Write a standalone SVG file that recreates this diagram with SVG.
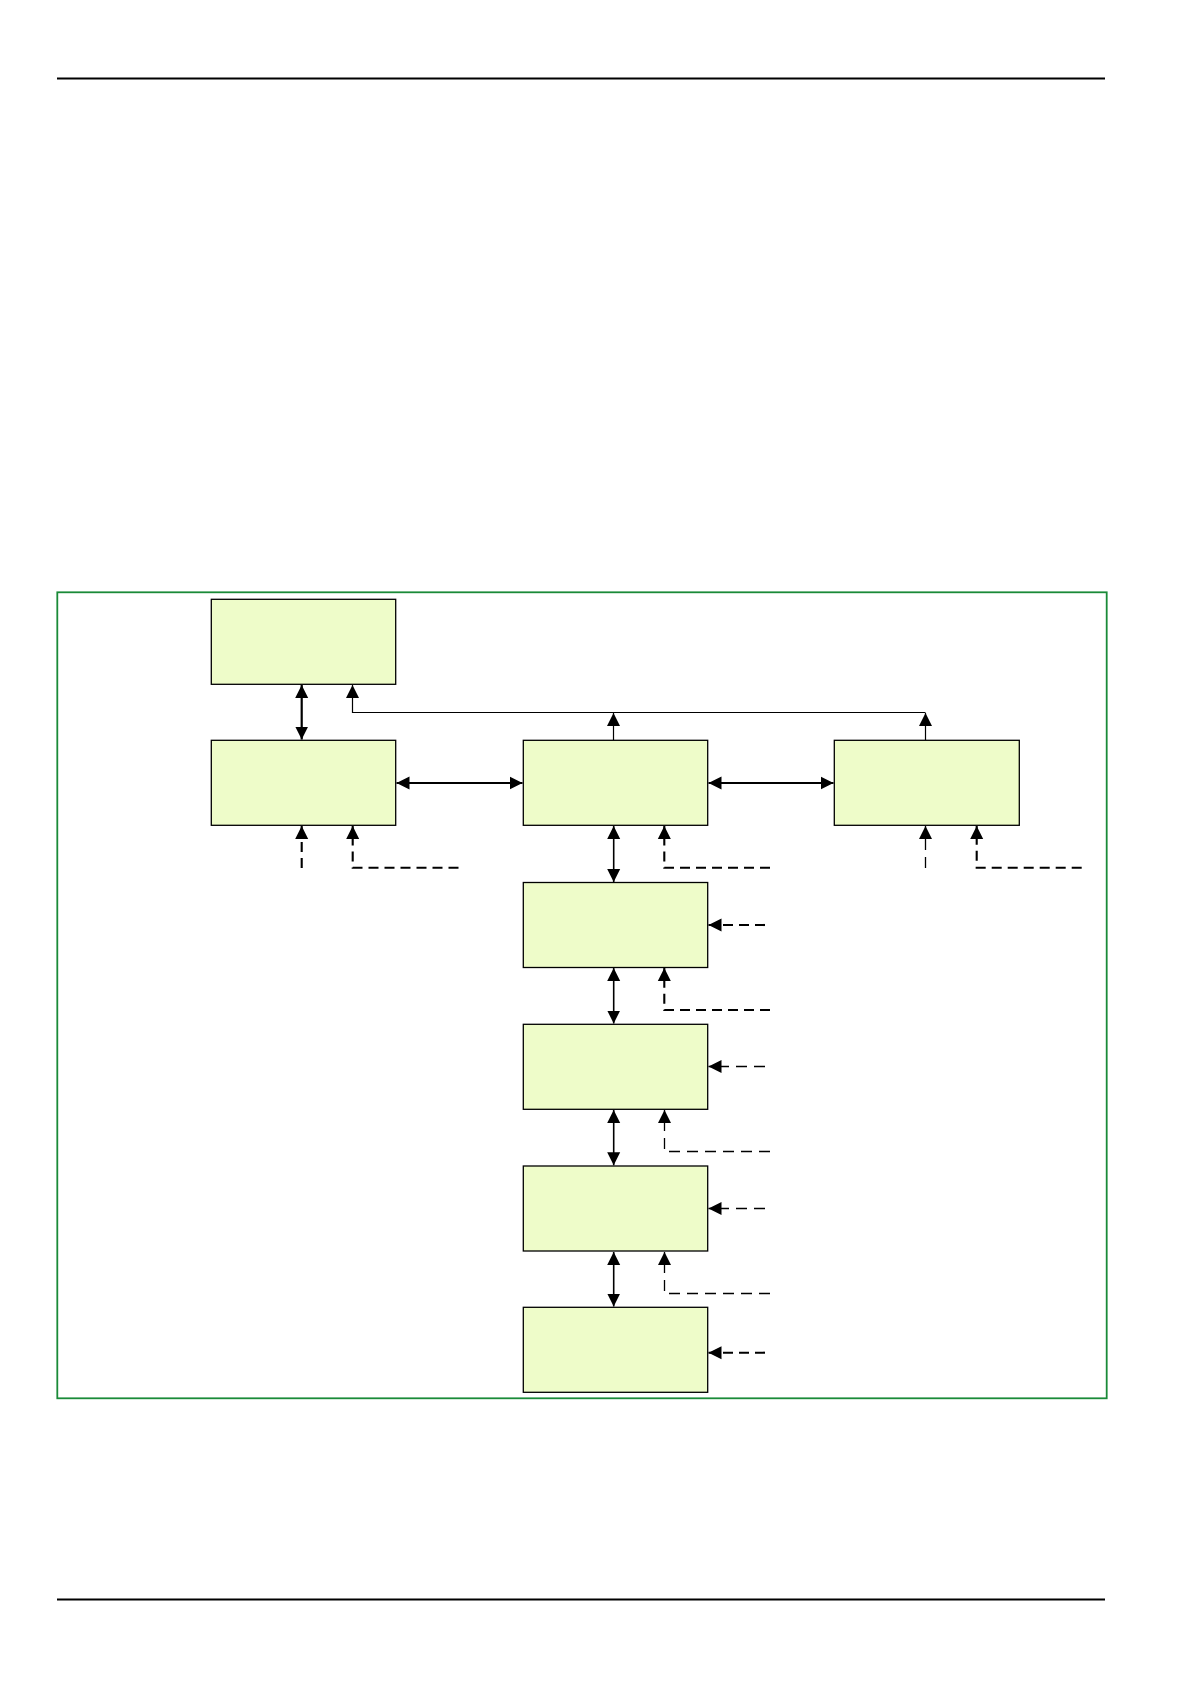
<svg xmlns="http://www.w3.org/2000/svg" width="1191" height="1684" viewBox="0 0 1191 1684">
<style>
.box{fill:#eefcc9;stroke:#000;stroke-width:1.3}
.frame{fill:none;stroke:#1a8a38;stroke-width:1.8}
.rule{stroke:#000;stroke-width:2.2}
.thick{fill:none;stroke:#000;stroke-width:2.2}
.med{fill:none;stroke:#000;stroke-width:1.6}
.thin{fill:none;stroke:#000;stroke-width:1.2}
.dthick{fill:none;stroke:#000;stroke-width:2.1;stroke-dasharray:10 6}
.dthin{fill:none;stroke:#000;stroke-width:1.3;stroke-dasharray:11 7}
</style>
<defs>
<marker id="ah" markerUnits="userSpaceOnUse" markerWidth="14" markerHeight="14" refX="13" refY="7" orient="auto-start-reverse" viewBox="0 0 14 14">
<path d="M0,0.5 L13,7 L0,13.5 Z" fill="#000"/>
</marker>
</defs>
<line class="rule" x1="57" y1="78.5" x2="1105" y2="78.5"/>
<line class="rule" x1="57" y1="1599.5" x2="1105" y2="1599.5"/>
<rect class="frame" x="57.3" y="592.3" width="1049.4" height="806"/>
<g id="nodes">
<g id="n1"><rect class="box" x="211.3" y="599.3" width="184.4" height="85"/></g>
<g id="n2"><rect class="box" x="211.3" y="740.3" width="184.4" height="85"/></g>
<g id="n3"><rect class="box" x="523.3" y="740.3" width="184.4" height="85"/></g>
<g id="n4"><rect class="box" x="834.3" y="740.3" width="185" height="85"/></g>
<g id="n5"><rect class="box" x="523.3" y="882.5" width="184.4" height="85"/></g>
<g id="n6"><rect class="box" x="523.3" y="1024.3" width="184.4" height="85"/></g>
<g id="n7"><rect class="box" x="523.3" y="1166" width="184.4" height="85"/></g>
<g id="n8"><rect class="box" x="523.3" y="1307.3" width="184.4" height="85"/></g>
</g>
<g id="connectors">
<line class="thick" x1="301.7" y1="685" x2="301.7" y2="739.5" marker-start="url(#ah)" marker-end="url(#ah)"/>
<polyline class="thin" points="925.5,712.5 352.5,712.5 352.5,685" marker-end="url(#ah)"/>
<line class="thin" x1="613.5" y1="740" x2="613.5" y2="713" marker-end="url(#ah)"/>
<line class="thin" x1="925.5" y1="740" x2="925.5" y2="713" marker-end="url(#ah)"/>
<line class="thick" x1="396.5" y1="783" x2="522.5" y2="783" marker-start="url(#ah)" marker-end="url(#ah)"/>
<line class="thick" x1="708.5" y1="783" x2="833.5" y2="783" marker-start="url(#ah)" marker-end="url(#ah)"/>
<line class="dthick" x1="301.7" y1="868" x2="301.7" y2="826" marker-end="url(#ah)"/>
<polyline class="dthick" points="458.5,867.7 352.7,867.7 352.7,826" marker-end="url(#ah)"/>
<line class="med" x1="613.7" y1="826" x2="613.7" y2="882" marker-start="url(#ah)" marker-end="url(#ah)"/>
<polyline class="dthick" points="770,867.7 664.3,867.7 664.3,826" marker-end="url(#ah)"/>
<line class="dthin" x1="925.5" y1="868" x2="925.5" y2="826" marker-end="url(#ah)"/>
<polyline class="dthick" points="1081.7,867.7 976.7,867.7 976.7,826" marker-end="url(#ah)"/>
<line class="dthick" x1="765" y1="925" x2="708.5" y2="925" marker-end="url(#ah)"/>
<line class="med" x1="613.7" y1="968" x2="613.7" y2="1023.5" marker-start="url(#ah)" marker-end="url(#ah)"/>
<polyline class="dthick" points="770,1010 664.3,1010 664.3,968" marker-end="url(#ah)"/>
<line class="dthin" x1="765" y1="1066.5" x2="708.5" y2="1066.5" marker-end="url(#ah)"/>
<line class="med" x1="613.7" y1="1110" x2="613.7" y2="1165.3" marker-start="url(#ah)" marker-end="url(#ah)"/>
<polyline class="dthin" points="770,1151.5 664.5,1151.5 664.5,1110" marker-end="url(#ah)"/>
<line class="dthin" x1="765" y1="1208.5" x2="708.5" y2="1208.5" marker-end="url(#ah)"/>
<line class="med" x1="613.7" y1="1252" x2="613.7" y2="1306.5" marker-start="url(#ah)" marker-end="url(#ah)"/>
<polyline class="dthin" points="770,1293.5 664.5,1293.5 664.5,1252" marker-end="url(#ah)"/>
<line class="dthick" x1="765" y1="1352.7" x2="708.5" y2="1352.7" marker-end="url(#ah)"/>
</g>
</svg>
